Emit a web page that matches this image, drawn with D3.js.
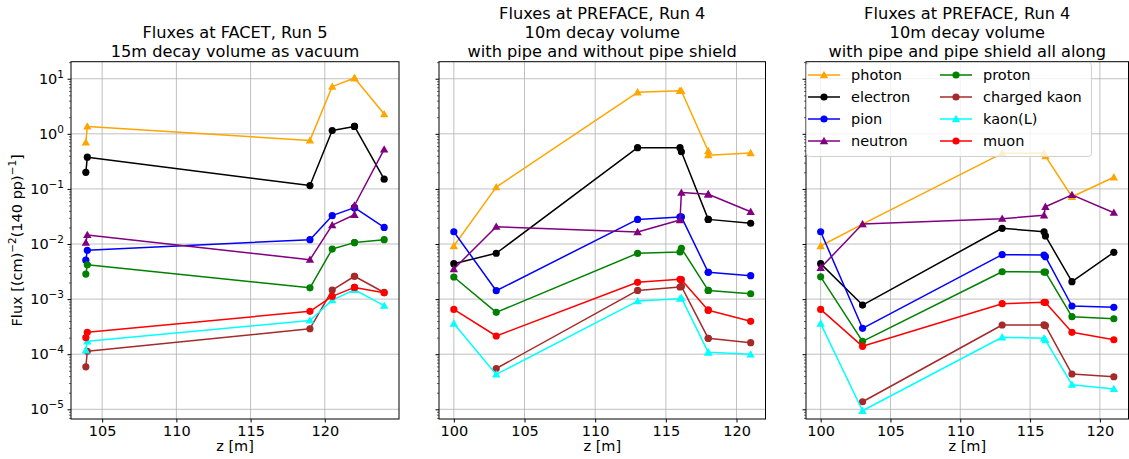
<!DOCTYPE html>
<html>
<head>
<meta charset="utf-8">
<script src="https://cdn.jsdelivr.net/npm/d3@7"></script>
<style>
  html, body { margin: 0; padding: 0; background: #fff; }
  svg { display: block; font-family: "DejaVu Sans", sans-serif; }
</style>
</head>
<body>
<svg id="chart" width="1129" height="459"></svg>
<script>
/* ── Data ──────────────────────────────────────────────────── */
const species = ['photon', 'electron', 'pion', 'neutron', 'proton', 'charged kaon', 'kaon(L)', 'muon'];
const colors  = ['orange', 'black', 'blue', 'purple', 'green', 'brown', 'cyan', 'red'];
const markers = ['tri', 'circle', 'circle', 'tri', 'circle', 'circle', 'tri', 'circle'];

const titles = [
  ['Fluxes at FACET, Run 5', '15m decay volume as vacuum'],
  ['Fluxes at PREFACE, Run 4', '10m decay volume', 'with pipe and without pipe shield'],
  ['Fluxes at PREFACE, Run 4', '10m decay volume', 'with pipe and pipe shield all along'],
];

// z positions [m]
const zFacet   = [103.9, 104, 119, 120.5, 122, 122, 124];
const zNoShield = [100, 103, 113, 116, 116.1, 118, 118, 121];
const zShield  = [100, 103, 113, 116, 116.1, 118, 121];

// fluxes, panel 1 (same order as species)
const facetPhoton   = [0.70, 1.36, 0.76, 7.2, 10.3, 10.3, 2.28];
const facetElectron = [0.20, 0.377, 0.115, 1.15, 1.36, 1.36, 0.15];
const facetPion     = [0.0051, 0.0077, 0.012, 0.0327, 0.0457, 0.0457, 0.020];
const facetNeutron  = [0.0106, 0.0146, 0.0052, 0.022, 0.034, 0.05, 0.52];
const facetProton   = [0.00285, 0.0042, 0.0016, 0.0081, 0.0106, 0.0106, 0.012];
const facetKaonCh   = [5.9e-5, 1.13e-4, 2.9e-4, 1.46e-3, 2.6e-3, 2.6e-3, 1.32e-3];
const facetKaonL    = [1.18e-4, 1.72e-4, 4.1e-4, 9.6e-4, 1.48e-3, 1.48e-3, 7.6e-4];
const facetMuon     = [2.0e-4, 2.5e-4, 6.0e-4, 1.12e-3, 1.63e-3, 1.63e-3, 1.3e-3];

// panel 2
const noShPhoton   = [0.0092, 0.108, 5.67, 6.05, 6.0, 0.488, 0.41, 0.449];
const noShElectron = [0.0044, 0.0068, 0.56, 0.56, 0.473, 0.028, 0.028, 0.0238];
const noShPion     = [0.0167, 0.00142, 0.028, 0.031, 0.031, 0.00306, 0.00306, 0.00266];
const noShNeutron  = [0.00352, 0.0206, 0.0165, 0.0273, 0.0857, 0.080, 0.080, 0.0385];
const noShProton   = [0.00252, 5.75e-4, 0.00678, 0.00716, 0.00835, 1.44e-3, 1.44e-3, 1.25e-3];
const noShKaonCh   = [null, 5.5e-5, 1.44e-3, 1.66e-3, 1.7e-3, 1.94e-4, 1.94e-4, 1.62e-4];
const noShKaonL    = [3.6e-4, 4.3e-5, 9.2e-4, 1.02e-3, 1.05e-3, 1.08e-4, 1.08e-4, 9.95e-5];
const noShMuon     = [6.5e-4, 2.14e-4, 2.02e-3, 2.29e-3, 2.25e-3, 6.3e-4, 6.3e-4, 3.95e-4];

// panel 3
const shPhoton   = [0.0092, 0.023, 0.443, 0.443, 0.395, 0.072, 0.163];
const shElectron = [0.0044, 7.8e-4, 0.0193, 0.0167, 0.014, 2.07e-3, 7.07e-3];
const shPion     = [0.0167, 2.95e-4, 6.4e-3, 6.3e-3, 5.9e-3, 7.5e-4, 7.1e-4];
const shNeutron  = [0.0037, 0.023, 0.0288, 0.0332, 0.0475, 0.078, 0.037];
const shProton   = [0.00254, 1.71e-4, 3.14e-3, 3.1e-3, 3.1e-3, 4.8e-4, 4.4e-4];
const shKaonCh   = [null, 1.37e-5, 3.39e-4, 3.4e-4, 3.3e-4, 4.37e-5, 3.9e-5];
const shKaonL    = [3.6e-4, 9.4e-6, 2.03e-4, 1.95e-4, 1.81e-4, 2.8e-5, 2.34e-5];
const shMuon     = [6.5e-4, 1.39e-4, 8.26e-4, 8.75e-4, 8.7e-4, 2.5e-4, 1.83e-4];

const xTicks1 = [105, 110, 115, 120];
const xTicks23 = [100, 105, 110, 115, 120];
const yTicks = [1e-5, 1e-4, 1e-3, 1e-2, 1e-1, 1, 10];

const panels = [
  { z: zFacet, series: [facetPhoton, facetElectron, facetPion, facetNeutron, facetProton, facetKaonCh, facetKaonL, facetMuon],
    xDomain: [102.9, 125.0], xTicks: xTicks1, left: 71, right: 399 },
  { z: zNoShield, series: [noShPhoton, noShElectron, noShPion, noShNeutron, noShProton, noShKaonCh, noShKaonL, noShMuon],
    xDomain: [98.95, 122.05], xTicks: xTicks23, left: 439, right: 765.5 },
  { z: zShield, series: [shPhoton, shElectron, shPion, shNeutron, shProton, shKaonCh, shKaonL, shMuon],
    xDomain: [98.95, 122.05], xTicks: xTicks23, left: 806, right: 1128.5 },
];

/* ── Layout ────────────────────────────────────────────────── */
const TOP = 61.7, BOTTOM = 419;
const FS = 14.5;
const svg = d3.select('#chart');

const y = d3.scaleLog().domain([Math.pow(10, -5.176), Math.pow(10, 1.309)]).range([BOTTOM, TOP]);

const minorY = [];
for (let e = -6; e <= 1; e++) for (let m = 2; m <= 9; m++) {
  const v = m * Math.pow(10, e);
  if (v > y.domain()[0] && v < y.domain()[1]) minorY.push(v);
}

function marker(g, kind, cx, cy, color) {
  if (kind === 'circle') {
    g.append('circle').attr('cx', cx).attr('cy', cy).attr('r', 3.6).attr('fill', color);
  } else {
    const s = 4.2;
    g.append('path')
      .attr('d', `M${cx},${cy - s} L${cx + s},${cy + s * 0.75} L${cx - s},${cy + s * 0.75} Z`)
      .attr('fill', color);
  }
}

function supText(sel, base, exp) {
  sel.text(null);
  sel.append('tspan').text(base);
  sel.append('tspan').attr('dy', -6).attr('font-size', FS * 0.72).text(exp);
}

panels.forEach((p, pi) => {
  const x = d3.scaleLinear().domain(p.xDomain).range([p.left, p.right]);
  const g = svg.append('g');

  // grid
  g.append('g').selectAll('line.gx').data(p.xTicks).join('line')
    .attr('x1', d => x(d)).attr('x2', d => x(d)).attr('y1', TOP).attr('y2', BOTTOM)
    .attr('stroke', '#b0b0b0').attr('stroke-width', 0.8);
  g.append('g').selectAll('line.gy').data(yTicks).join('line')
    .attr('x1', p.left).attr('x2', p.right).attr('y1', d => y(d)).attr('y2', d => y(d))
    .attr('stroke', '#b0b0b0').attr('stroke-width', 0.8);

  // series
  const line = d3.line().defined(d => d[1] != null).x(d => x(d[0])).y(d => y(d[1]));
  const clip = `clip${pi}`;
  svg.append('clipPath').attr('id', clip).append('rect')
    .attr('x', p.left).attr('y', TOP).attr('width', p.right - p.left).attr('height', BOTTOM - TOP);
  const plot = g.append('g').attr('clip-path', `url(#${clip})`);
  p.series.forEach((vals, si) => {
    const pts = p.z.map((z, i) => [z, vals[i]]);
    plot.append('path').datum(pts).attr('d', line)
      .attr('fill', 'none').attr('stroke', colors[si]).attr('stroke-width', 1.5)
      .attr('stroke-linejoin', 'round');
    const mg = plot.append('g');
    pts.filter(d => d[1] != null).forEach(d => marker(mg, markers[si], x(d[0]), y(d[1]), colors[si]));
  });

  // axes
  const xa = g.append('g').attr('transform', `translate(0,${BOTTOM})`)
    .call(d3.axisBottom(x).tickValues(p.xTicks).tickSize(3.5).tickPadding(3).tickFormat(d3.format('d')));
  xa.select('.domain').remove();
  xa.selectAll('text').attr('font-size', FS).attr('font-family', 'DejaVu Sans').attr('fill', '#000');

  const ya = g.append('g').attr('transform', `translate(${p.left},0)`)
    .call(d3.axisLeft(y).tickValues(yTicks).tickSize(3.5).tickPadding(3.5));
  ya.select('.domain').remove();
  const yl = ya.selectAll('text').attr('font-size', FS).attr('font-family', 'DejaVu Sans').attr('fill', '#000');
  if (pi === 0) {
    yl.each(function(d) { supText(d3.select(this), '10', String(Math.round(Math.log10(d))).replace('-', '\u2212')); });
  } else {
    yl.remove();
  }
  const ym = g.append('g').attr('transform', `translate(${p.left},0)`)
    .call(d3.axisLeft(y).tickValues(minorY).tickSize(2).tickFormat(''));
  ym.select('.domain').remove();
  ym.selectAll('line').attr('stroke-width', 0.6);

  // frame
  g.append('rect').attr('x', p.left).attr('y', TOP).attr('width', p.right - p.left).attr('height', BOTTOM - TOP)
    .attr('fill', 'none').attr('stroke', '#000').attr('stroke-width', 1);

  // x label
  g.append('text').attr('x', (p.left + p.right) / 2).attr('y', 451)
    .attr('text-anchor', 'middle').attr('font-size', FS).text('z [m]');

  // title
  const tl = titles[pi];
  tl.forEach((t, i) => {
    g.append('text').attr('x', (p.left + p.right) / 2).attr('y', 57 - (tl.length - 1 - i) * 19)
      .attr('text-anchor', 'middle').attr('font-size', 16.2).text(t);
  });
});

// y label
const ylab = svg.append('text')
  .attr('transform', `translate(22,${(TOP + BOTTOM) / 2}) rotate(-90)`)
  .attr('text-anchor', 'middle').attr('font-size', FS);
ylab.append('tspan').text('Flux [(cm)');
ylab.append('tspan').attr('dy', -6).attr('font-size', FS * 0.72).text('\u22122');
ylab.append('tspan').attr('dy', 6).text('(140 pp)');
ylab.append('tspan').attr('dy', -6).attr('font-size', FS * 0.72).text('\u22121');
ylab.append('tspan').attr('dy', 6).text(']');

/* ── Legend ────────────────────────────────────────────────── */
const lg = svg.append('g');
lg.append('rect').attr('x', 806.5).attr('y', 62.5).attr('width', 285).attr('height', 94)
  .attr('rx', 3).attr('fill', '#fff').attr('fill-opacity', 0.8).attr('stroke', '#d0d0d0');
species.forEach((name, i) => {
  const col = Math.floor(i / 4), row = i % 4;
  const x0 = col === 0 ? 808 : 940;
  const yy = 75 + row * 22;
  lg.append('line').attr('x1', x0).attr('x2', x0 + 32).attr('y1', yy).attr('y2', yy)
    .attr('stroke', colors[i]).attr('stroke-width', 1.5);
  marker(lg, markers[i], x0 + 16, yy, colors[i]);
  lg.append('text').attr('x', x0 + 43).attr('y', yy + 5).attr('font-size', FS).text(name);
});
</script>
</body>
</html>
